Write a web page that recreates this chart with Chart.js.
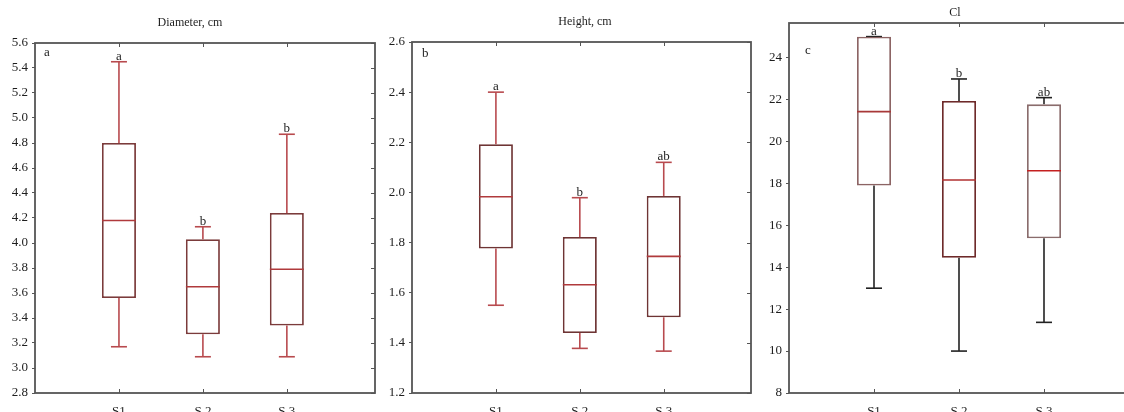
<!DOCTYPE html>
<html><head><meta charset="utf-8">
<script src="https://cdn.jsdelivr.net/npm/chart.js@4"></script>
<style>
html,body{margin:0;padding:0;width:1124px;height:412px;overflow:hidden;background:#fff;}
canvas{position:absolute;top:0;}
</style></head><body>
<canvas id="c1" width="380" height="420" style="left:0px"></canvas>
<canvas id="c2" width="414" height="420" style="left:378px"></canvas>
<canvas id="c3" width="406" height="420" style="left:752px"></canvas>
<script>
const categories = ['S1', 'S 2', 'S 3'];

// Panel a: Diameter, cm
const diamMin = [3.17, 3.09, 3.09];
const diamQ1  = [3.56, 3.27, 3.34];
const diamMed = [4.18, 3.65, 3.79];
const diamQ3  = [4.80, 4.03, 4.24];
const diamMax = [5.45, 4.13, 4.87];
const diamLetters = ['a', 'b', 'b'];
const diamTicks = [2.8, 3.0, 3.2, 3.4, 3.6, 3.8, 4.0, 4.2, 4.4, 4.6, 4.8, 5.0, 5.2, 5.4, 5.6];
const diamTickLabels = ['2.8','3.0','3.2','3.4','3.6','3.8','4.0','4.2','4.4','4.6','4.8','5.0','5.2','5.4','5.6'];

// Panel b: Height, cm
const heightMin = [1.55, 1.378, 1.367];
const heightQ1  = [1.776, 1.439, 1.502];
const heightMed = [1.983, 1.632, 1.745];
const heightQ3  = [2.192, 1.822, 1.986];
const heightMax = [2.40, 1.979, 2.12];
const heightLetters = ['a', 'b', 'ab'];
const heightTicks = [1.2, 1.4, 1.6, 1.8, 2.0, 2.2, 2.4, 2.6];
const heightTickLabels = ['1.2','1.4','1.6','1.8','2.0','2.2','2.4','2.6'];

// Panel c: Cl
const clMin = [13.0, 10.0, 11.37];
const clQ1  = [17.9, 14.45, 15.38];
const clMed = [21.42, 18.16, 18.6];
const clQ3  = [25.0, 21.93, 21.77];
const clMax = [25.0, 22.98, 22.09];
const clLetters = ['a', 'b', 'ab'];
const clTicks = [8, 10, 12, 14, 16, 18, 20, 22, 24];
const clTickLabels = ['8','10','12','14','16','18','20','22','24'];

const SERIF = '"Liberation Serif", "DejaVu Serif", serif';
const TEXT = '#1e1e1e';
const FRAME = '#555555';

function buildPanel(id, p) {
  const xs = categories.map((_, i) => i + 1);
  const lowData = xs.map((x, i) => ({x: x, y: [p.min[i], p.q1[i]]}));
  const highData = xs.map((x, i) => ({x: x, y: [p.q3[i], p.max[i]]}));
  const boxData = xs.map((x, i) => ({x: x, y: [p.q1[i], p.q3[i]]}));
  const medData = xs.map((x, i) => ({x: x, y: p.med[i]}));
  const capData = [];
  const capColors = [];
  xs.forEach((x, i) => {
    capData.push({x: x, y: p.min[i]}); capColors.push(p.whisker);
    capData.push({x: x, y: p.max[i]}); capColors.push(p.whiskerTop || p.whisker);
  });

  const decor = {
    id: 'decor' + id,
    afterDatasetsDraw(chart) {
      const ctx = chart.ctx, a = chart.chartArea;
      const xS = chart.scales.x, yS = chart.scales.y;
      ctx.save();
      ctx.strokeStyle = FRAME;
      ctx.lineWidth = 1.8;
      ctx.strokeRect(a.left, a.top, a.right - a.left, a.bottom - a.top);
      ctx.lineWidth = 1;
      ctx.beginPath();
      p.ticks.forEach(v => {
        const py = Math.round(yS.getPixelForValue(v)) + 0.5;
        ctx.moveTo(a.right, py); ctx.lineTo(a.right - 4, py);
      });
      xs.forEach(v => {
        const px = Math.round(xS.getPixelForValue(v)) + 0.5;
        ctx.moveTo(px, a.bottom); ctx.lineTo(px, a.bottom - 4);
        ctx.moveTo(px, a.top); ctx.lineTo(px, a.top + 4);
      });
      ctx.stroke();
      ctx.fillStyle = TEXT;
      ctx.font = '13px ' + SERIF;
      ctx.textAlign = 'center';
      ctx.textBaseline = 'alphabetic';
      xs.forEach((v, i) => {
        ctx.fillText(p.letters[i], xS.getPixelForValue(v), yS.getPixelForValue(p.max[i]) - 2);
      });
      ctx.textAlign = 'left';
      ctx.fillText(p.panel, a.left + p.panelDx, a.top + p.panelDy);
      ctx.restore();
    }
  };

  new Chart(document.getElementById(id), {
    type: 'bar',
    data: {
      datasets: [
        {type: 'bar', data: lowData, backgroundColor: p.whisker, borderWidth: 0, maxBarThickness: 1.6,
         grouped: false, inflateAmount: 0, order: 3},
        {type: 'bar', data: highData, backgroundColor: p.whiskerTop || p.whisker, borderWidth: 0, maxBarThickness: 1.6,
         grouped: false, inflateAmount: 0, order: 3},
        {type: 'line', data: capData, showLine: false, pointStyle: 'line', pointRadius: 8, pointHoverRadius: 8,
         pointBorderColor: capColors, borderColor: p.whisker, pointBorderWidth: 1.6, borderWidth: 1.6, order: 2},
        {type: 'bar', data: boxData, backgroundColor: '#ffffff', borderColor: p.box, borderWidth: 1.8,
         borderSkipped: false, maxBarThickness: 34, grouped: false, inflateAmount: 0, order: 1},
        {type: 'line', data: medData, showLine: false, pointStyle: 'line', pointRadius: 17, pointHoverRadius: 17,
         pointBorderColor: p.median, borderColor: p.median, pointBorderWidth: 1.6, borderWidth: 1.6, order: 0}
      ]
    },
    options: {
      responsive: false,
      animation: false,
      events: [],
      layout: {padding: 0, autoPadding: false},
      plugins: {
        legend: {display: false},
        tooltip: {enabled: false},
        title: {
          display: true, text: p.title, color: TEXT,
          font: {family: SERIF, size: 12, weight: 'normal'},
          padding: {top: p.titleTop, bottom: p.titleBottom}
        }
      },
      scales: {
        x: {
          type: 'linear', min: 0, max: p.xMax, offset: false,
          grid: {display: false, drawTicks: false, offset: false},
          border: {display: false},
          afterBuildTicks: s => { s.ticks = xs.map(v => ({value: v})); },
          ticks: {callback: (v, i) => categories[i], color: TEXT, font: {family: SERIF, size: 13},
                  padding: 11, autoSkip: false, maxRotation: 0},
          afterFit: s => { s.height = 27; }
        },
        y: {
          type: 'linear', position: 'left', min: p.yMin, max: p.yMax,
          afterBuildTicks: s => { s.ticks = p.ticks.map(v => ({value: v})); },
          ticks: {callback: (v, i) => p.tickLabels[i], color: TEXT, font: {family: SERIF, size: 13},
                  padding: 4, autoSkip: false},
          grid: {drawOnChartArea: false, tickLength: 3, color: FRAME, lineWidth: 1},
          border: {display: false},
          afterFit: s => { s.width = p.yW; }
        },
        y2: {
          type: 'linear', position: 'right', display: true, min: p.yMin, max: p.yMax,
          ticks: {display: false}, grid: {display: false, drawTicks: false},
          border: {display: false},
          afterFit: s => { s.width = p.y2W; }
        }
      }
    },
    plugins: [decor]
  });
}

buildPanel('c1', {
  title: 'Diameter, cm', panel: 'a',
  min: diamMin, q1: diamQ1, med: diamMed, q3: diamQ3, max: diamMax, letters: diamLetters,
  ticks: diamTicks, tickLabels: diamTickLabels, yMin: 2.8, yMax: 5.6, xMax: 4.05,
  yW: 35, y2W: 5, titleTop: 15.5, titleBottom: 13.1, panelDx: 9, panelDy: 13,
  box: '#7b3b3b', whisker: '#b84a4e', median: '#b03a3c'
});
buildPanel('c2', {
  title: 'Height, cm', panel: 'b',
  min: heightMin, q1: heightQ1, med: heightMed, q3: heightQ3, max: heightMax, letters: heightLetters,
  ticks: heightTicks, tickLabels: heightTickLabels, yMin: 1.2, yMax: 2.6, xMax: 4.04,
  yW: 34, y2W: 41, titleTop: 14.5, titleBottom: 13.1, panelDx: 10, panelDy: 15,
  box: '#6e3434', whisker: '#b84a4e', median: '#b03a3c'
});
buildPanel('c3', {
  title: 'Cl', panel: 'c',
  min: clMin, q1: clQ1, med: clMed, q3: clQ3, max: clMax, letters: clLetters,
  ticks: clTicks, tickLabels: clTickLabels, yMin: 8, yMax: 25.65, xMax: 4.0,
  yW: 37, y2W: 29, titleTop: 6, titleBottom: 2.6, panelDx: 16, panelDy: 31,
  box: ['#8c6464', '#6e2a2a', '#8a6c6c'], whisker: '#222222', median: ['#a83838', '#b03030', '#c42020']
});
</script>
</body></html>
